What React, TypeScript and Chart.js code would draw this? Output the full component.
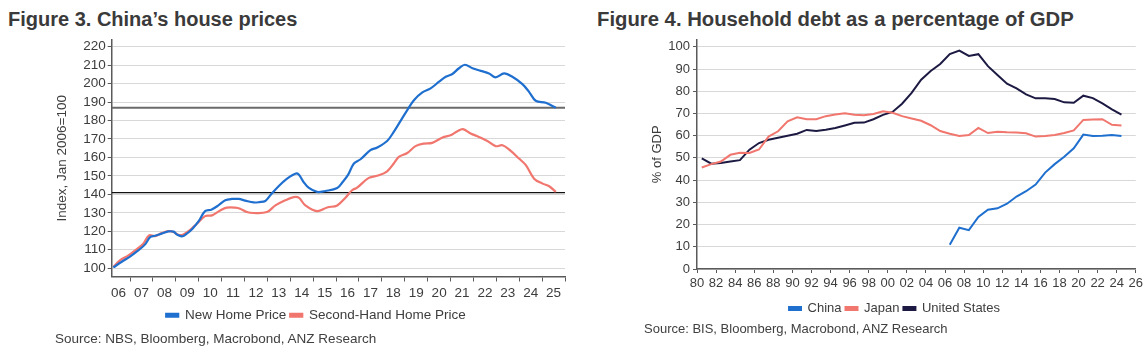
import React, { useEffect, useRef } from 'react';
import { Chart, registerables } from 'chart.js';

Chart.register(...registerables);

// The page is laid out edge to edge so the full 1147x350 area is usable.
if (typeof document !== 'undefined') document.body.style.margin = '0';

// ---------- Figure 3: China's house prices ----------
const newHomeDates = [
  2006.27, 2006.64, 2007.0, 2007.36, 2007.66, 2007.88, 2008.09, 2008.38, 2008.68, 2008.9,
  2009.04, 2009.26, 2009.48, 2009.73, 2009.99, 2010.28, 2010.55, 2010.86, 2011.16, 2011.45,
  2011.74, 2012.03, 2012.4, 2012.65, 2012.91, 2013.13, 2013.49, 2013.86, 2014.22, 2014.37,
  2014.58, 2014.8, 2015.17, 2015.53, 2016.05, 2016.29, 2016.53, 2016.78, 2017.07, 2017.5,
  2017.8, 2018.23, 2018.52, 2018.82, 2019.11, 2019.4, 2019.77, 2020.13, 2020.5, 2020.79,
  2021.08, 2021.37, 2021.63, 2021.96, 2022.32, 2022.68, 2022.97, 2023.34, 2023.7, 2024.14,
  2024.43, 2024.72, 2025.16, 2025.6,
];
const newHomeValues = [
  100.4, 103.5, 106.3, 109.6, 112.9, 116.8, 117.6, 118.7, 119.9, 119.8,
  118.3, 117.2, 118.7, 121.4, 125.3, 130.9, 131.7, 134.0, 136.8, 137.5,
  137.5, 136.6, 135.6, 135.8, 136.4, 139.5, 144.4, 148.5, 151.2, 150.7,
  146.7, 143.6, 141.3, 141.8, 143.4, 146.7, 150.7, 156.7, 159.0, 163.9,
  165.4, 168.9, 173.8, 179.8, 185.6, 191.0, 195.2, 197.4, 201.0, 203.7,
  205.2, 208.3, 210.2, 208.3, 206.9, 205.5, 203.4, 205.5, 203.7, 199.7,
  195.5, 190.7, 189.6, 186.9,
];
const secondHandDates = [
  2006.27, 2006.56, 2006.93, 2007.29, 2007.58, 2007.83, 2008.09, 2008.38, 2008.68, 2008.9,
  2009.11, 2009.33, 2009.63, 2009.92, 2010.28, 2010.58, 2010.94, 2011.23, 2011.6, 2011.81,
  2012.1, 2012.4, 2012.98, 2013.35, 2013.78, 2014.15, 2014.37, 2014.66, 2015.17, 2015.61,
  2016.05, 2016.41, 2016.7, 2016.92, 2017.43, 2017.87, 2018.23, 2018.52, 2018.74, 2019.11,
  2019.47, 2019.84, 2020.2, 2020.65, 2021.0, 2021.3, 2021.54, 2021.88, 2022.24, 2022.61,
  2022.97, 2023.27, 2023.63, 2023.99, 2024.29, 2024.65, 2025.02, 2025.31, 2025.6,
];
const secondHandValues = [
  100.6, 104.2, 106.9, 110.2, 113.2, 117.8, 117.4, 119.0, 120.1, 119.6,
  118.1, 118.3, 120.8, 124.1, 128.2, 128.6, 131.3, 132.8, 132.8, 132.2,
  130.4, 129.9, 130.4, 134.0, 136.8, 138.5, 138.2, 134.0, 130.9, 132.9,
  134.0, 138.2, 142.2, 143.6, 148.9, 150.3, 152.5, 156.7, 160.3, 162.4,
  166.1, 167.5, 167.9, 170.8, 172.0, 174.2, 175.3, 173.0, 171.1, 168.9,
  166.1, 166.6, 163.5, 159.4, 155.8, 148.5, 145.8, 144.4, 141.3,
];
const houseRefLevels = [186.9, 140.9];
const houseXTicks = [
  2007, 2008, 2009, 2010, 2011, 2012, 2013, 2014, 2015, 2016,
  2017, 2018, 2019, 2020, 2021, 2022, 2023, 2024, 2025, 2026,
];
const houseXLabels = [
  '06', '07', '08', '09', '10', '11', '12', '13', '14', '15',
  '16', '17', '18', '19', '20', '21', '22', '23', '24', '25',
];
const houseYTicks = [100, 110, 120, 130, 140, 150, 160, 170, 180, 190, 200, 210, 220];

// ---------- Figure 4: Household debt as % of GDP ----------
const debtYears = [
  1980, 1981, 1982, 1983, 1984, 1985, 1986, 1987, 1988, 1989,
  1990, 1991, 1992, 1993, 1994, 1995, 1996, 1997, 1998, 1999,
  2000, 2001, 2002, 2003, 2004, 2005, 2006, 2007, 2008, 2009,
  2010, 2011, 2012, 2013, 2014, 2015, 2016, 2017, 2018, 2019,
  2020, 2021, 2022, 2023, 2024,
];
const usDebt = [
  49.8, 47.4, 47.7, 48.4, 49.0, 53.7, 56.7, 58.2, 59.1, 60.0,
  60.9, 62.6, 62.1, 62.7, 63.5, 64.6, 65.8, 65.9, 67.4, 69.4,
  70.7, 74.4, 79.3, 85.2, 89.1, 92.3, 96.7, 98.3, 95.9, 96.7,
  91.3, 87.3, 83.4, 81.3, 78.6, 76.8, 76.8, 76.5, 75.0, 74.8,
  78.0, 76.9, 74.5, 71.9, 69.5,
];
const japanDebt = [
  45.7, 47.2, 48.4, 51.4, 52.3, 52.2, 53.8, 59.6, 62.0, 66.5,
  68.3, 67.4, 67.4, 68.8, 69.5, 70.1, 69.4, 69.2, 69.8, 71.0,
  70.3, 68.8, 67.7, 66.7, 64.7, 62.1, 60.9, 59.9, 60.3, 63.5,
  61.2, 61.8, 61.5, 61.4, 61.1, 59.6, 59.9, 60.3, 61.2, 62.4,
  67.1, 67.3, 67.4, 64.9, 64.6,
];
const chinaYears = [
  2006, 2007, 2008, 2009, 2010, 2011, 2012, 2013, 2014, 2015,
  2016, 2017, 2018, 2019, 2020, 2021, 2022, 2023, 2024,
];
const chinaDebt = [
  10.9, 18.6, 17.5, 23.4, 26.7, 27.3, 29.4, 32.6, 35.0, 38.0,
  43.4, 47.2, 50.5, 54.3, 60.5, 59.9, 60.0, 60.3, 59.9,
];
const debtXTicks = [
  1980, 1982, 1984, 1986, 1988, 1990, 1992, 1994, 1996, 1998, 2000, 2002,
  2004, 2006, 2008, 2010, 2012, 2014, 2016, 2018, 2020, 2022, 2024, 2026,
];
const debtXLabels = [
  '80', '82', '84', '86', '88', '90', '92', '94', '96', '98', '00', '02',
  '04', '06', '08', '10', '12', '14', '16', '18', '20', '22', '24', '26',
];
const debtYTicks = [0, 10, 20, 30, 40, 50, 60, 70, 80, 90, 100];

const FONT = 'Arial, "Liberation Sans", sans-serif';
const TEXT = '#3d3d3d';
const AXIS = '#5a5a5a';
const GRID = '#d8d8d8';
const BLUE = '#1f6fcf';
const RED = '#f0766e';
const NAVY = '#1c1a42';

// Centres the legend on a given x (canvas pixels) instead of the padded box.
const legendCenter = {
  id: 'legendCenter',
  afterLayout(chart: any, _args: any, opts: any) {
    const lg = chart.legend;
    if (!lg || opts.x == null) return;
    const dx = opts.x - (lg.left + lg.right) / 2;
    lg.left += dx;
    lg.right += dx;
  },
};

function HouseChart() {
  const ref = useRef<HTMLCanvasElement>(null);
  useEffect(() => {
    const font = { family: FONT, size: 13.5 };
    const xMin = 2006.2;
    const xMax = 2026;
    const chart = new Chart(ref.current!, {
      type: 'line',
      data: {
        datasets: [
          {
            label: 'New Home Price',
            data: newHomeDates.map((x, i) => ({ x, y: newHomeValues[i] })),
            borderColor: BLUE,
            backgroundColor: BLUE,
            borderWidth: 2.2,
            pointRadius: 0,
            tension: 0.35,
          },
          {
            label: 'Second-Hand Home Price',
            data: secondHandDates.map((x, i) => ({ x, y: secondHandValues[i] })),
            borderColor: RED,
            backgroundColor: RED,
            borderWidth: 2.2,
            pointRadius: 0,
            tension: 0.35,
          },
          {
            label: 'ref-high',
            data: [{ x: xMin, y: houseRefLevels[0] }, { x: xMax, y: houseRefLevels[0] }],
            borderColor: '#6a6a6a',
            borderWidth: 2,
            pointRadius: 0,
          },
          {
            label: 'ref-low',
            data: [{ x: xMin, y: houseRefLevels[1] }, { x: xMax, y: houseRefLevels[1] }],
            borderColor: '#111111',
            borderWidth: 1.3,
            pointRadius: 0,
          },
        ],
      },
      plugins: [legendCenter],
      options: {
        animation: false,
        responsive: false,
        maintainAspectRatio: false,
        layout: { padding: { top: 10, right: 59, bottom: 4, left: 0 } },
        plugins: {
          legendCenter: { x: 308 },
          legend: {
            position: 'bottom',
            labels: {
              filter: (item: any) => item.datasetIndex < 2,
              boxWidth: 12,
              boxHeight: 3,
              padding: 4,
              color: TEXT,
              font,
            },
          },
          tooltip: { enabled: false },
        },
        scales: {
          x: {
            type: 'linear',
            min: xMin,
            max: xMax,
            afterBuildTicks: (s: any) => {
              s.ticks = houseXTicks.map((v) => ({ value: v }));
            },
            afterFit: (s: any) => {
              s.height = 28;
            },
            ticks: {
              callback: (_v: any, i: number) => houseXLabels[i],
              labelOffset: -11.4,
              padding: 4,
              autoSkip: false,
              maxRotation: 0,
              color: TEXT,
              font,
            },
            grid: { drawOnChartArea: false, drawTicks: true, tickLength: 5, tickColor: AXIS },
            border: { color: AXIS, width: 1.5 },
          },
          y: {
            min: 95.5,
            max: 223.6,
            afterBuildTicks: (s: any) => {
              s.ticks = houseYTicks.map((v) => ({ value: v }));
            },
            afterFit: (s: any) => {
              s.width = 103.7;
            },
            ticks: { padding: 2, color: TEXT, font: { ...font, lineHeight: 1 } },
            grid: { color: GRID, tickColor: AXIS, tickLength: 4 },
            border: { color: AXIS, width: 1.5 },
            title: {
              display: true,
              text: 'Index, Jan 2006=100',
              color: TEXT,
              font,
              padding: { top: 46, bottom: 0 },
            },
          },
        },
      } as any,
    });
    return () => chart.destroy();
  }, []);
  return (
    <canvas
      ref={ref}
      width={616}
      height={306}
      style={{ position: 'absolute', left: 8, top: 30, width: 616, height: 306 }}
    />
  );
}

function DebtChart() {
  const ref = useRef<HTMLCanvasElement>(null);
  useEffect(() => {
    const font = { family: FONT, size: 13 };
    const chart = new Chart(ref.current!, {
      type: 'line',
      data: {
        datasets: [
          {
            label: 'China',
            data: chinaYears.map((y, i) => ({ x: y + 0.5, y: chinaDebt[i] })),
            borderColor: BLUE,
            backgroundColor: BLUE,
            borderWidth: 2,
            pointRadius: 0,
          },
          {
            label: 'Japan',
            data: debtYears.map((y, i) => ({ x: y + 0.5, y: japanDebt[i] })),
            borderColor: RED,
            backgroundColor: RED,
            borderWidth: 2,
            pointRadius: 0,
          },
          {
            label: 'United States',
            data: debtYears.map((y, i) => ({ x: y + 0.5, y: usDebt[i] })),
            borderColor: NAVY,
            backgroundColor: NAVY,
            borderWidth: 2,
            pointRadius: 0,
          },
        ],
      },
      plugins: [legendCenter],
      options: {
        animation: false,
        responsive: false,
        maintainAspectRatio: false,
        layout: { padding: { top: 9, right: 10, bottom: 4, left: 0 } },
        plugins: {
          legendCenter: { x: 252.5 },
          legend: {
            position: 'bottom',
            labels: { boxWidth: 12, boxHeight: 3, padding: 4, color: TEXT, font },
          },
          tooltip: { enabled: false },
        },
        scales: {
          x: {
            type: 'linear',
            min: 1980,
            max: 2026,
            afterBuildTicks: (s: any) => {
              s.ticks = debtXTicks.map((v) => ({ value: v }));
            },
            afterFit: (s: any) => {
              s.height = 29;
            },
            ticks: {
              callback: (_v: any, i: number) => debtXLabels[i],
              padding: 3,
              autoSkip: false,
              maxRotation: 0,
              color: TEXT,
              font,
            },
            grid: { drawOnChartArea: false, drawTicks: true, tickLength: 4, tickColor: AXIS },
            border: { color: AXIS, width: 1.5 },
          },
          y: {
            min: 0,
            max: 103.3,
            afterBuildTicks: (s: any) => {
              s.ticks = debtYTicks.map((v) => ({ value: v }));
            },
            afterFit: (s: any) => {
              s.width = 55;
            },
            ticks: { padding: 3, color: TEXT, font: { ...font, lineHeight: 1 } },
            grid: { color: GRID, tickColor: AXIS, tickLength: 4 },
            border: { color: AXIS, width: 1.5 },
            title: {
              display: true,
              text: '% of GDP',
              color: TEXT,
              font,
              padding: { top: 8, bottom: 0 },
            },
          },
        },
      } as any,
    });
    return () => chart.destroy();
  }, []);
  return (
    <canvas
      ref={ref}
      width={504}
      height={299}
      style={{ position: 'absolute', left: 642, top: 30, width: 504, height: 299 }}
    />
  );
}

const titleStyle: React.CSSProperties = {
  position: 'absolute',
  top: 9,
  margin: 0,
  fontFamily: FONT,
  fontWeight: 'bold',
  fontSize: 20,
  lineHeight: '20px',
  color: '#3a3a3a',
  whiteSpace: 'nowrap',
};

const sourceStyle: React.CSSProperties = {
  position: 'absolute',
  margin: 0,
  fontFamily: FONT,
  color: '#404040',
  whiteSpace: 'nowrap',
  lineHeight: '16px',
};

export default function App() {
  return (
    <div
      style={{
        position: 'relative',
        width: 1147,
        height: 350,
        overflow: 'hidden',
        background: '#ffffff',
      }}
    >
      <div style={{ ...titleStyle, left: 8 }}>Figure 3. China’s house prices</div>
      <div style={{ ...titleStyle, left: 597, fontSize: 20.3 }}>
        Figure 4. Household debt as a percentage of GDP
      </div>
      <HouseChart />
      <DebtChart />
      <div style={{ ...sourceStyle, left: 55, top: 331, fontSize: 13.5 }}>
        Source: NBS, Bloomberg, Macrobond, ANZ Research
      </div>
      <div style={{ ...sourceStyle, left: 644, top: 321, fontSize: 13 }}>
        Source: BIS, Bloomberg, Macrobond, ANZ Research
      </div>
    </div>
  );
}
